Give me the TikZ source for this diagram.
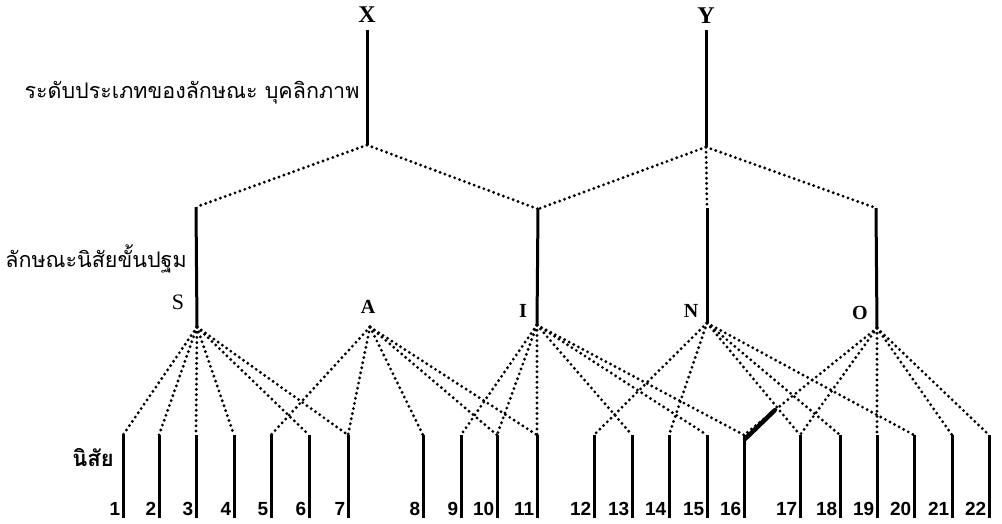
\documentclass[tikz,border=0pt]{standalone}
\usepackage{fontspec}
\usetikzlibrary{calc}
\setmainfont{Liberation Serif}
\newfontfamily\thaifont[Script=Thai]{Loma}
\newfontfamily\numfont{Liberation Sans}
\begin{document}
\begin{tikzpicture}[x=1pt,y=-1pt,
  solidline/.style={line width=3pt},
  dotline/.style={line width=3.2pt, line cap=round, dash pattern=on 0pt off 5.2pt},
  biglett/.style={font=\fontsize{24}{24}\selectfont\bfseries, inner sep=0pt},
  lett/.style={font=\fontsize{20}{20}\selectfont\bfseries, inner sep=0pt},
  num/.style={font=\numfont\bfseries\fontsize{19}{19}\selectfont, inner sep=0pt, anchor=south east},
  thai/.style={font=\thaifont\fontsize{21.5}{22}\selectfont, inner sep=0pt}]
\useasboundingbox (0,0) rectangle (1002,523);
% top labels
\node[biglett] (X) at (367,15) {X};
\node[biglett] (Y) at (706,16) {Y};
\coordinate (Xt) at (367,30); \coordinate (Xb) at (367,145);
\coordinate (Yt) at (706,30); \coordinate (Yb) at (706,147);
% second level tops
\coordinate (St) at (196,207);
\coordinate (It) at (538,209);
\coordinate (Nt) at (707,208);
\coordinate (Ot) at (876,208);
% junctions
\coordinate (Sj) at (197,327);
\coordinate (Aj) at (370,327);
\coordinate (Ij) at (537,325);
\coordinate (Nj) at (707,323);
\coordinate (Oj) at (877,328);
% letter labels
\node[font=\fontsize{22}{22}\selectfont, inner sep=0pt] (S) at (178,302) {S};
\node[lett] (A) at (368,307) {A};
\node[lett] (I) at (523,311) {I};
\node[lett] (N) at (691,311) {N};
\node[lett] (O) at (860,313) {O};
% thai labels
\node[thai] (L1) at (192,93) {ระดับประเภทของลักษณะ บุคลิกภาพ};
\node[thai] (L2) at (96,259) {ลักษณะนิสัยขั้นปฐม};
\node[thai, font=\thaifont\bfseries\fontsize{22}{22}\selectfont] (L3) at (93,458) {นิสัย};
% solid verticals
\draw[solidline] (Xt) -- (Xb);
\draw[solidline] (Yt) -- (Yb);
\draw[solidline] (St) -- (Sj);
\draw[solidline] (It) -- (Ij);
\draw[solidline] (Nt) -- (Nj);
\draw[solidline] (Ot) -- (Oj);
% dotted top connectors
\draw[dotline] (Xb) -- (St);
\draw[dotline] (Xb) -- (It);
\draw[dotline] (Yb) -- (It);
\draw[dotline] (Yb) -- (Ot);
\draw[dotline] (Yb) -- (Nt);
% trait lines and numbers
\foreach \i/\x in {1/123,2/159,3/196,4/234,5/271,6/309,7/348,8/423,9/461,10/497,11/537,12/594,13/632,14/669,15/707,16/744,17/800,18/840,19/877,20/914,21/952,22/989} {
  \coordinate (t\i) at (\x,435);
  \coordinate (b\i) at (\x,518);
  \draw[solidline] (t\i) -- (b\i);
  \node[num] (n\i) at (\x-2.5,516) {\i};
}
% S
\foreach \k in {1,2,3,4,6,7} \draw[dotline] (Sj) -- (t\k);
% A
\foreach \k in {5,7,8,10,11} \draw[dotline] (Aj) -- (t\k);
% I
\foreach \k in {9,10,11,13,15,16} \draw[dotline] (Ij) -- (t\k);
% N
\foreach \k in {12,14,17,18,20} \draw[dotline] (Nj) -- (t\k);
% O
\foreach \k in {16,17,19,21,22} \draw[dotline] (Oj) -- (t\k);
% ink blot on O--16
\draw[line width=4.5pt, line cap=round] ($(t16)+(1,4)$) -- ($(t16)!0.23!(Oj)$);
\end{tikzpicture}
\end{document}
